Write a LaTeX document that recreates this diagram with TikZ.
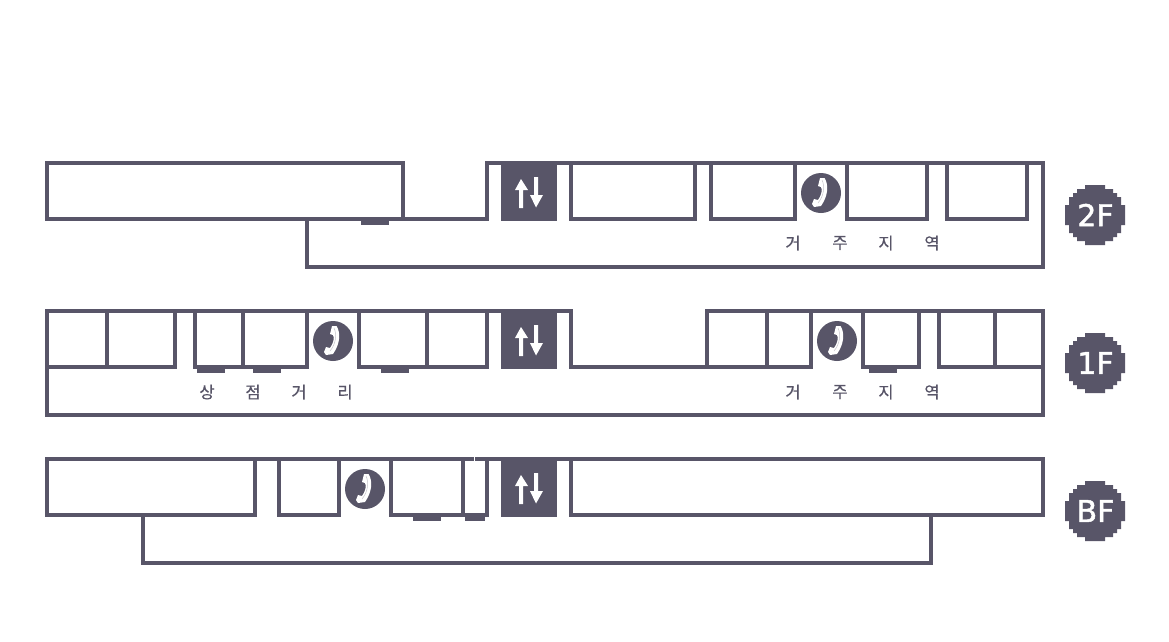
\documentclass[tikz,border=0pt]{standalone}
\usepackage{fontspec}
\setmainfont{DejaVu Sans}
\newfontfamily\krfont[FakeBold=0.4]{Noto Sans CJK KR}
\newfontfamily\badgefont[FakeBold=1.5]{DejaVu Sans}
\definecolor{ink}{HTML}{585568}
\tikzset{
  x=1pt,y=-1pt,
  wall/.style={draw=ink,line width=4.1pt,line cap=rect,line join=miter},
  stub/.style={fill=ink,draw=none},
  hangul/.style={inner sep=0pt,text=ink,font=\krfont\fontsize{16.5}{17}\selectfont},
  floorlabel/.style={inner sep=0pt,text=white,font=\badgefont\fontsize{30}{31}\selectfont},
  phonedisc/.style={circle,fill=ink,draw=none,minimum size=40pt,inner sep=0pt},
}
\newcommand{\liftshaft}[1]{% y offset
  \begin{scope}[yshift=-#1pt]
    \fill[ink] (501,161) rectangle (557,221);
    \fill[white] (519,208) -- (519,190) -- (515,190) -- (521,179) -- (528,190) -- (523,190) -- (523,208) -- cycle;
    \fill[white] (534,177) -- (534,195) -- (530,195) -- (536,207.5) -- (543,195) -- (538,195) -- (538,177) -- cycle;
  \end{scope}}
\newcommand{\phonemark}[3]{% name, x, y
  \node[phonedisc] (#1) at (#2,#3) {};
  \begin{scope}[shift={(#2pt,-#3pt)}]
    \fill[white] (-1,-15) -- (3.5,-15) .. controls (8,-8) and (7,3) .. (0,13)
      -- (-7,14) -- (-9,11) -- (-7,6) -- (-3,7)
      .. controls (0,3) and (2,-3) .. (0,-6) -- (-3,-7) -- cycle;
    \draw[ink!35,line width=.5pt] (1,-13) .. controls (4,-7) and (3,3) .. (-3,10);
  \end{scope}}
\newcommand{\floormark}[3]{% name, y, text
  \fill[ink] (1085,#2-30) -- (1105,#2-30) -- (1105,#2-26) -- (1113,#2-26) -- (1113,#2-22) -- (1117,#2-22) -- (1117,#2-18)
    -- (1121,#2-18) -- (1121,#2-10) -- (1125,#2-10) -- (1125,#2+10) -- (1121,#2+10) -- (1121,#2+18) -- (1117,#2+18)
    -- (1117,#2+22) -- (1113,#2+22) -- (1113,#2+26) -- (1105,#2+26) -- (1105,#2+30) -- (1085,#2+30) -- (1085,#2+26)
    -- (1077,#2+26) -- (1077,#2+22) -- (1073,#2+22) -- (1073,#2+18) -- (1069,#2+18) -- (1069,#2+10) -- (1065,#2+10)
    -- (1065,#2-10) -- (1069,#2-10) -- (1069,#2-18) -- (1073,#2-18) -- (1073,#2-22) -- (1077,#2-22) -- (1077,#2-26)
    -- (1085,#2-26) -- cycle;
  \node[floorlabel] (#1) at (1095.5,#2) {#3};}
\begin{document}
\begin{tikzpicture}
\useasboundingbox (0,0) rectangle (1169,641);
\fill[white] (0,0) rectangle (1169,641);
% 2F
\draw[wall] (47,163) -- (403,163) -- (403,219) -- (47,219) -- cycle;
\draw[wall] (403,219) -- (487,219) -- (487,163) -- (1043,163) -- (1043,267) -- (307,267) -- (307,219);
\draw[wall] (571,163) -- (571,219) -- (695,219) -- (695,163);
\draw[wall] (711,163) -- (711,219) -- (795,219) -- (795,163);
\draw[wall] (847,163) -- (847,219) -- (927,219) -- (927,163);
\draw[wall] (947,163) -- (947,219) -- (1027,219) -- (1027,163);
\fill[stub] (361,221) rectangle (389,225);
\liftshaft{0}
\phonemark{p2}{821}{193}
\node[hangul] (a1) at (793,243) {거};
\node[hangul] (a2) at (840,243) {주};
\node[hangul] (a3) at (886,243) {지};
\node[hangul] (a4) at (932,243) {역};
\floormark{f2}{215}{2F}
% 1F
\draw[wall] (47,311) -- (571,311) -- (571,367) -- (811,367) -- (811,311);
\draw[wall] (707,367) -- (707,311) -- (1043,311) -- (1043,415) -- (47,415) -- (47,311);
\draw[wall] (767,311) -- (767,367);
\draw[wall] (47,367) -- (175,367) -- (175,311);
\draw[wall] (107,311) -- (107,367);
\draw[wall] (195,311) -- (195,367) -- (307,367) -- (307,311);
\draw[wall] (243,311) -- (243,367);
\draw[wall] (359,311) -- (359,367) -- (487,367) -- (487,311);
\draw[wall] (427,311) -- (427,367);
\draw[wall] (863,311) -- (863,367) -- (919,367) -- (919,311);
\draw[wall] (939,311) -- (939,367) -- (1043,367);
\draw[wall] (995,311) -- (995,367);
\fill[stub] (197,369) rectangle (225,373);
\fill[stub] (253,369) rectangle (281,373);
\fill[stub] (381,369) rectangle (409,373);
\fill[stub] (869,369) rectangle (897,373);
\liftshaft{148}
\phonemark{p1a}{333}{341}
\phonemark{p1b}{837}{341}
\node[hangul] (b1) at (207,392) {상};
\node[hangul] (b2) at (253,392) {점};
\node[hangul] (b3) at (299,392) {거};
\node[hangul] (b4) at (345,392) {리};
\node[hangul] (c1) at (793,392) {거};
\node[hangul] (c2) at (840,392) {주};
\node[hangul] (c3) at (886,392) {지};
\node[hangul] (c4) at (932,392) {역};
\floormark{f1}{363}{1F}
% BF
\draw[wall] (571,459) -- (571,515) -- (1043,515) -- (1043,459) -- (47,459) -- (47,515) -- (255,515) -- (255,459);
\draw[wall] (279,459) -- (279,515) -- (339,515) -- (339,459);
\draw[wall] (391,459) -- (391,515) -- (487,515) -- (487,459);
\draw[wall] (463,459) -- (463,515);
\draw[wall] (143,515) -- (143,563) -- (931,563) -- (931,515);
\fill[stub] (413,517) rectangle (441,521);
\fill[stub] (465,517) rectangle (485,521);
\fill[white] (473.5,456) rectangle (474.5,461);
\liftshaft{296}
\phonemark{pb}{365}{489}
\floormark{fb}{511}{BF}
\end{tikzpicture}
\end{document}
